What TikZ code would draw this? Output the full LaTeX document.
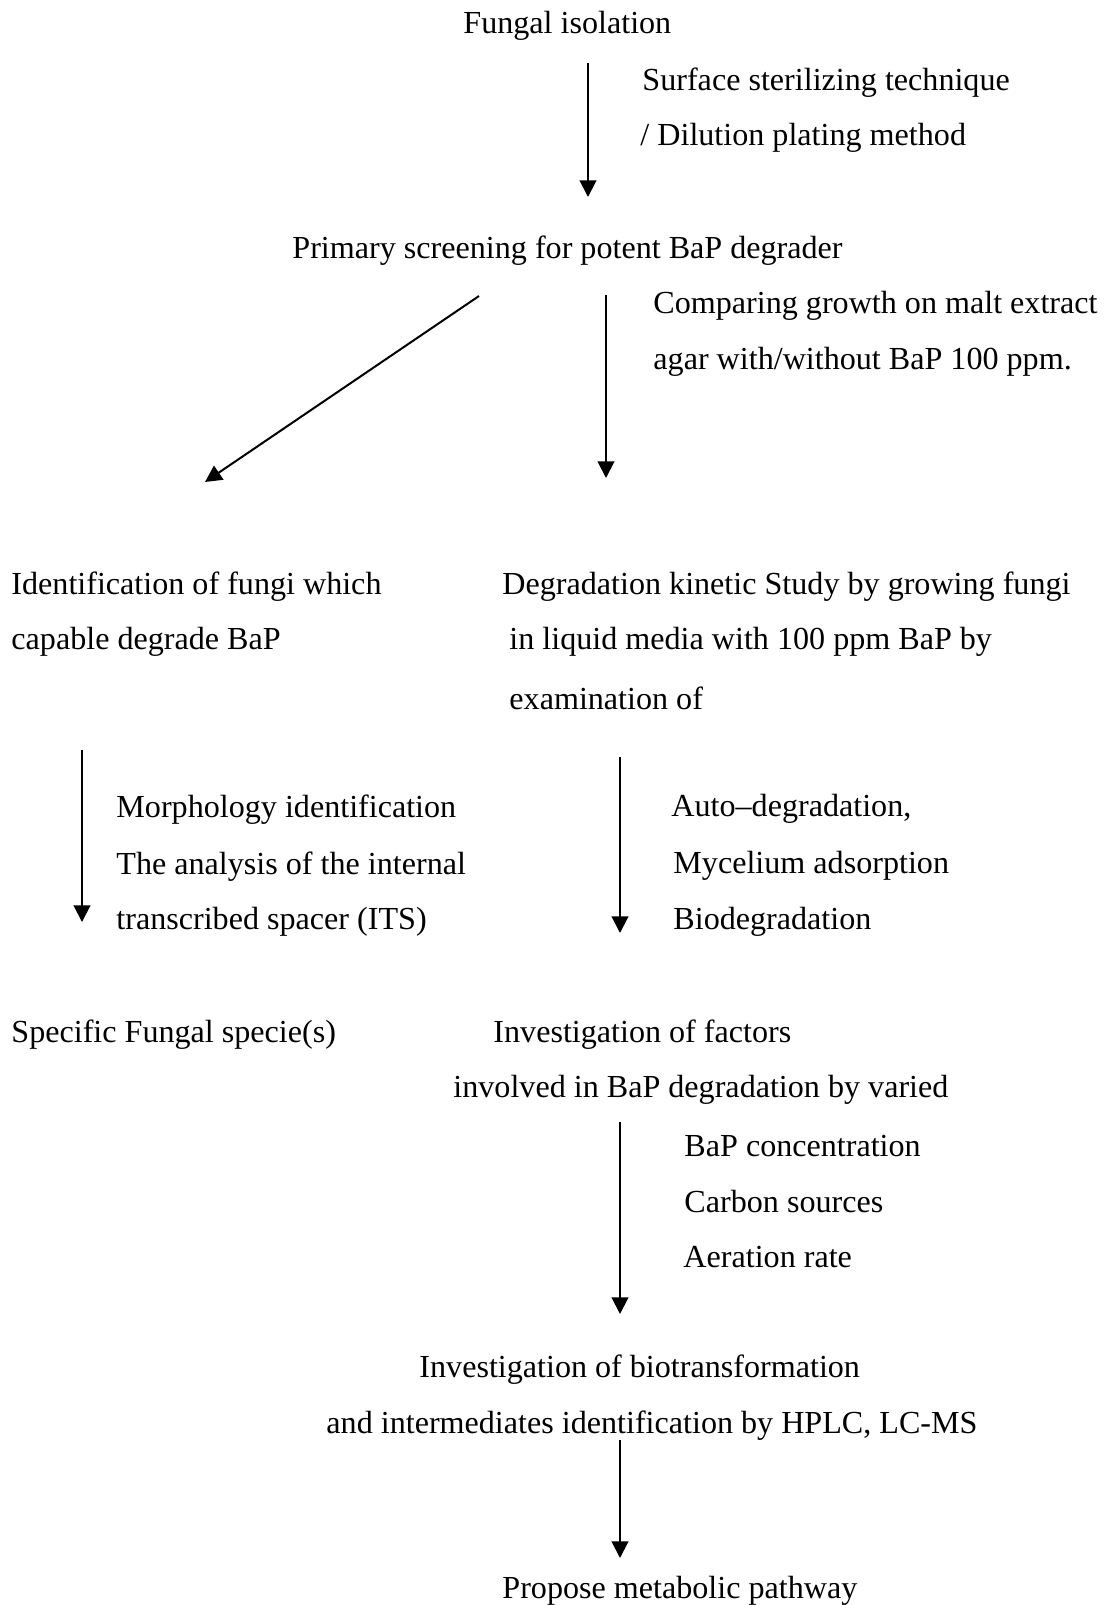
\documentclass[tikz,border=0pt]{standalone}
\usepackage{fontspec}
\setmainfont{Liberation Serif}
\usetikzlibrary{arrows.meta}

\tikzstyle{txt} = [anchor=west, inner sep=0pt, yshift=-1.9pt, font=\fontsize{14.45}{17}\selectfont]
\tikzstyle{arr} = [line width=0.9pt, -{Triangle[width=7.5pt,length=7.5pt]}]

\begin{document}
\begin{tikzpicture}[x=0.45pt,y=-0.45pt]
\useasboundingbox (0,0) rectangle (1106,1605);
% top
\node[txt] (isol) at (463,22) {Fungal isolation};
\node[txt] (surf) at (642,78) {Surface sterilizing technique};
\node[txt] (dil) at (640,134) {/ Dilution plating method};
\coordinate (a1s) at (588,63);
\coordinate (a1e) at (588,197);
\draw[arr] (a1s) -- (a1e);
\node[txt] (prim) at (292,246) {Primary screening for potent BaP degrader};
% split
\coordinate (a2s) at (479,296);
\coordinate (a2e) at (205,482);
\draw[arr] (a2s) -- (a2e);
\coordinate (a3s) at (606,295);
\coordinate (a3e) at (606,478);
\draw[arr] (a3s) -- (a3e);
\node[txt] (comp) at (653,302) {Comparing growth on malt extract};
\node[txt] (agar) at (653,358) {agar with/without BaP 100 ppm.};
% left branch
\node[txt] (ident) at (11,582) {Identification of fungi which};
\node[txt] (capa) at (11,638) {capable degrade BaP};
\coordinate (a4s) at (82,750);
\coordinate (a4e) at (82,922);
\draw[arr] (a4s) -- (a4e);
\node[txt] (morph) at (116,805) {Morphology identification};
\node[txt] (anal) at (116,862) {The analysis of the internal};
\node[txt] (trans) at (116,918) {transcribed spacer (ITS)};
\node[txt] (spec) at (11,1030) {Specific Fungal specie(s)};
% right branch
\node[txt] (degr) at (502,582) {Degradation kinetic Study by growing fungi};
\node[txt] (liq) at (509,638) {in liquid media with 100 ppm BaP by};
\node[txt] (exam) at (509,694) {examination of};
\coordinate (a5s) at (620,757);
\coordinate (a5e) at (620,933);
\draw[arr] (a5s) -- (a5e);
\node[txt] (auto) at (671,805) {Auto--degradation,};
\node[txt] (myc) at (673,862) {Mycelium adsorption};
\node[txt] (bio) at (673,918) {Biodegradation};
\node[txt] (fact) at (493,1030) {Investigation of factors};
\node[txt] (invo) at (453,1086) {involved in BaP degradation by varied};
\coordinate (a6s) at (620,1122);
\coordinate (a6e) at (620,1314);
\draw[arr] (a6s) -- (a6e);
\node[txt] (conc) at (684,1142) {BaP concentration};
\node[txt] (carb) at (684,1197) {Carbon sources};
\node[txt] (aer) at (683,1253) {Aeration rate};
\node[txt] (biot) at (419,1365) {Investigation of biotransformation};
\node[txt] (hplc) at (326,1421) {and intermediates identification by HPLC, LC-MS};
\coordinate (a7s) at (620,1440);
\coordinate (a7e) at (620,1558);
\draw[arr] (a7s) -- (a7e);
\node[txt] (prop) at (502,1587) {Propose metabolic pathway};
\end{tikzpicture}
\end{document}
